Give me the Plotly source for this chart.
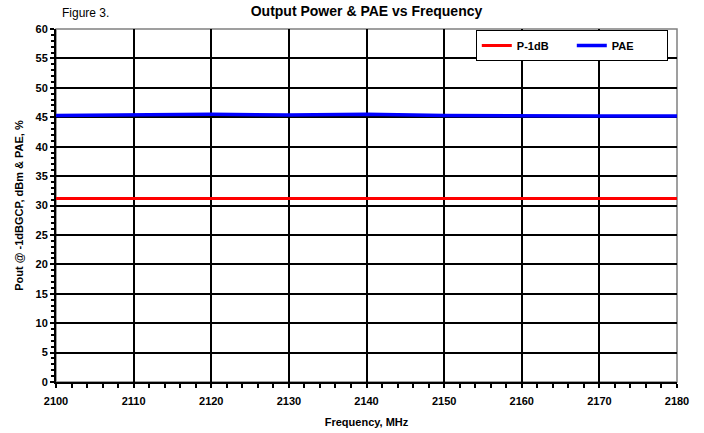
import plotly.graph_objects as go

freq = [2100, 2110, 2120, 2130, 2140, 2150, 2160, 2170, 2180]
p1db = [31.2, 31.2, 31.2, 31.2, 31.2, 31.2, 31.2, 31.2, 31.2]
pae = [45.3, 45.4, 45.5, 45.4, 45.5, 45.3, 45.2, 45.2, 45.2]

FONT = "Liberation Sans, Arial, sans-serif"

fig = go.Figure()
fig.add_trace(go.Scatter(x=freq, y=p1db, mode="lines", name="P-1dB",
                         line=dict(color="#ff0000", width=3)))
fig.add_trace(go.Scatter(x=freq, y=pae, mode="lines", name="PAE",
                         line=dict(color="#0000ff", width=3.5)))

fig.update_layout(
    width=704, height=433,
    margin=dict(l=56, r=27, t=29, b=51, autoexpand=False),
    paper_bgcolor="white", plot_bgcolor="white",
    font=dict(family=FONT, color="black", size=11),
    title=dict(text="<b>Output Power & PAE vs Frequency</b>", x=0.5, xref="paper",
               y=1 - 11 / 433, yref="container", yanchor="middle",
               font=dict(family=FONT, size=14, color="black")),
    showlegend=True,
    legend=dict(orientation="h", x=0.676, y=0.997, xanchor="left", yanchor="top",
                bgcolor="white", bordercolor="black", borderwidth=1,
                entrywidth=50, entrywidthmode="pixels",
                font=dict(family=FONT, size=11, color="black", weight="bold"),
                itemwidth=30, tracegroupgap=0),
    annotations=[dict(text="Figure 3.", xref="paper", yref="paper", x=(60 - 56) / 621,
                      y=1 + (29 - 13) / 353, xanchor="left", yanchor="middle",
                      showarrow=False, font=dict(family=FONT, size=12, color="black"))],
    shapes=[dict(type="rect", xref="paper", yref="paper", x0=0, x1=1, y0=0, y1=1,
                 line=dict(color="#808080", width=1.5), layer="below")],
)

fig.update_xaxes(
    range=[2100, 2180], dtick=10, tick0=2100,
    showgrid=True, gridcolor="black", gridwidth=1.5,
    showline=True, linecolor="black", linewidth=2,
    ticks="outside", ticklen=4, tickwidth=1.5, tickcolor="black",
    minor=dict(dtick=2, ticks="outside", ticklen=4, tickwidth=1.5, tickcolor="black", showgrid=False),
    tickfont=dict(family=FONT, size=11, color="black", weight="bold"),
    ticklabelstandoff=4,
    title=dict(text="<b>Frequency, MHz</b>", standoff=12,
               font=dict(family=FONT, size=11, color="black")),
    zeroline=False,
)
fig.update_yaxes(
    range=[0, 60], dtick=5, tick0=0,
    showgrid=True, gridcolor="black", gridwidth=1.5,
    showline=True, linecolor="black", linewidth=2,
    ticks="outside", ticklen=4, tickwidth=1.5, tickcolor="black",
    minor=dict(dtick=1, ticks="outside", ticklen=3, tickwidth=1.5, tickcolor="black", showgrid=False),
    tickfont=dict(family=FONT, size=11, color="black", weight="bold"),
    title=dict(text="<b>Pout @ -1dBGCP, dBm & PAE, %</b>", standoff=10,
               font=dict(family=FONT, size=11, color="black")),
    zeroline=False,
)

fig.write_html("out.html")
